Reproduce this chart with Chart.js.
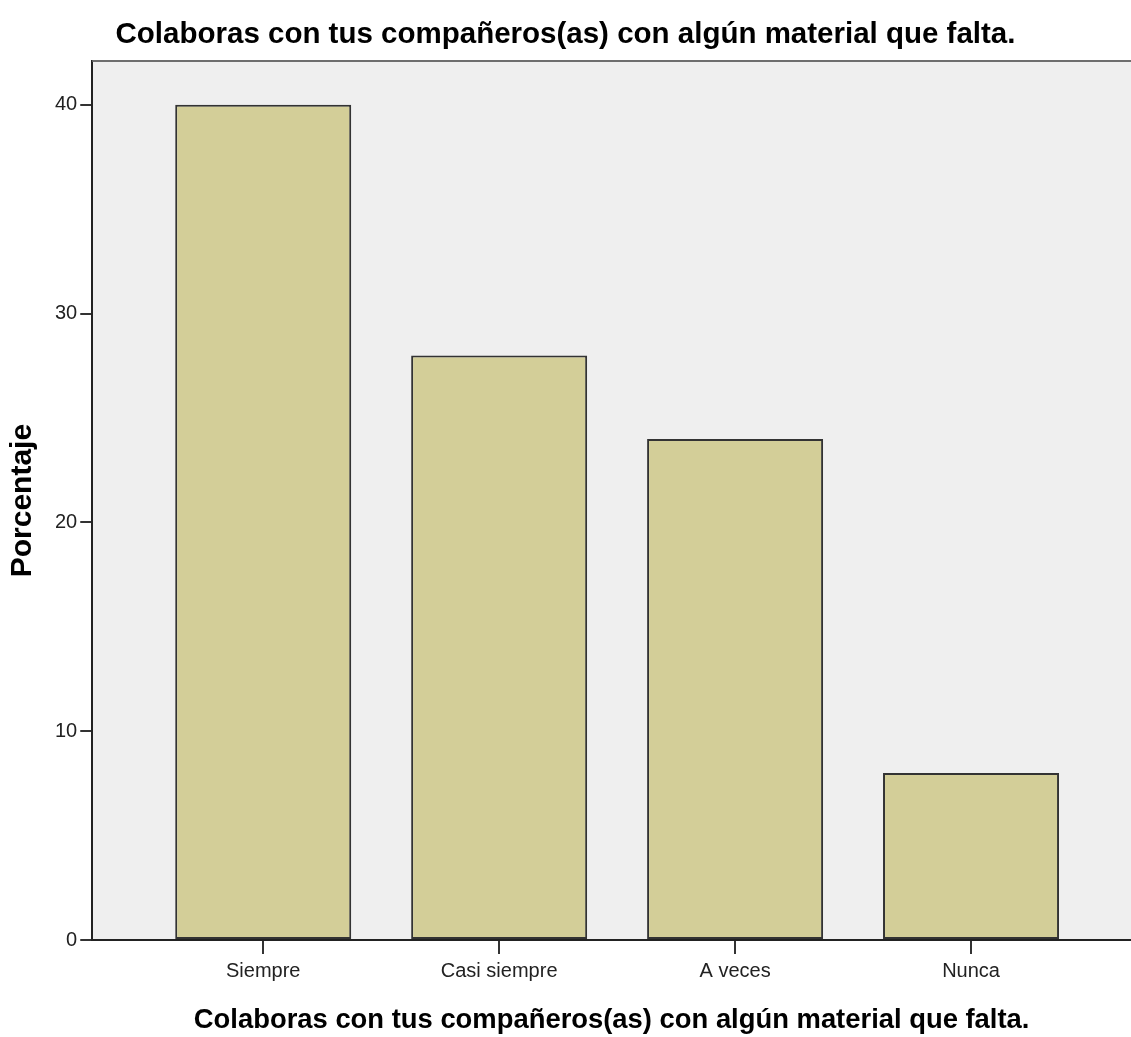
<!DOCTYPE html>
<html>
<head>
<meta charset="utf-8">
<script src="https://cdn.jsdelivr.net/npm/chart.js@4"></script>
<style>
  html, body { margin: 0; padding: 0; background: #fff; }
  #wrap { width: 1131px; height: 1037px; }
</style>
</head>
<body>
<div id="wrap"><canvas id="barChart"></canvas></div>
<script>
var titulo = 'Colaboras con tus compañeros(as) con algún material que falta.';
var categorias = ['Siempre', 'Casi siempre', 'A veces', 'Nunca'];
var porcentajes = [40, 28, 24, 8];
var yTicks = [0, 10, 20, 30, 40];

// fondo gris del área del gráfico y borde superior del marco
var plotFrame = {
    id: 'plotFrame',
    beforeDraw: function (chart) {
        var a = chart.chartArea, ctx = chart.ctx;
        ctx.save();
        ctx.fillStyle = '#efefef';
        ctx.fillRect(a.left, a.top, a.right - a.left, a.bottom - a.top);
        ctx.restore();
    },
    afterDraw: function (chart) {
        var a = chart.chartArea, ctx = chart.ctx;
        ctx.save();
        ctx.strokeStyle = '#6e6e6e';
        ctx.lineWidth = 2;
        ctx.beginPath();
        ctx.moveTo(a.left, a.top);
        ctx.lineTo(a.right, a.top);
        ctx.stroke();
        ctx.restore();
    }
};

var barData = {
    datasets: [
        {
            data: categorias.map(function (c, i) { return { x: i, y: porcentajes[i] }; }),
            backgroundColor: '#d3ce98',
            borderColor: '#333333',
            borderWidth: 2,
            borderSkipped: false,
            categoryPercentage: 1,
            barPercentage: 0.746
        }
    ]
};

var fuente = '"Liberation Sans", Arial, sans-serif';

var barOptions = {
    responsive: true,
    maintainAspectRatio: false,
    animation: false,
    layout: { padding: 0 },
    plugins: {
        legend: { display: false },
        tooltip: { enabled: false },
        title: {
            display: true,
            text: titulo,
            color: '#000',
            font: { family: fuente, size: 29.5, weight: 'bold' },
            padding: { top: 17, bottom: 8.6 }
        }
    },
    scales: {
        x: {
            type: 'linear',
            offset: false,
            min: -0.7246,
            max: 3.678,
            afterBuildTicks: function (scale) {
                scale.ticks = categorias.map(function (c, i) { return { value: i }; });
            },
            ticks: {
                autoSkip: false,
                maxRotation: 0,
                padding: 5,
                color: '#222',
                font: { family: fuente, size: 20 },
                callback: function (v) { return categorias[v]; }
            },
            grid: { offset: false, drawOnChartArea: false, drawTicks: true, tickLength: 14, color: '#333', lineWidth: 2 },
            border: { display: true, color: '#222', width: 2 },
            title: {
                display: true,
                text: titulo,
                color: '#000',
                font: { family: fuente, size: 27.4, weight: 'bold' },
                padding: { top: 16, bottom: 0 }
            }
        },
        y: {
            min: 0,
            max: 42.1,
            afterBuildTicks: function (scale) {
                scale.ticks = yTicks.map(function (v) { return { value: v }; });
            },
            ticks: {
                padding: 3,
                color: '#222',
                font: { family: fuente, size: 20 }
            },
            grid: { drawOnChartArea: false, drawTicks: true, tickLength: 12, color: '#333', lineWidth: 2 },
            border: { display: true, color: '#222', width: 2 },
            title: {
                display: true,
                text: 'Porcentaje',
                color: '#000',
                font: { family: fuente, size: 30, weight: 'bold' },
                padding: { top: 5, bottom: 11 }
            }
        }
    }
};

var barChart = new Chart(document.getElementById('barChart').getContext('2d'), {
    type: 'bar',
    data: barData,
    options: barOptions,
    plugins: [plotFrame]
});
</script>
</body>
</html>
